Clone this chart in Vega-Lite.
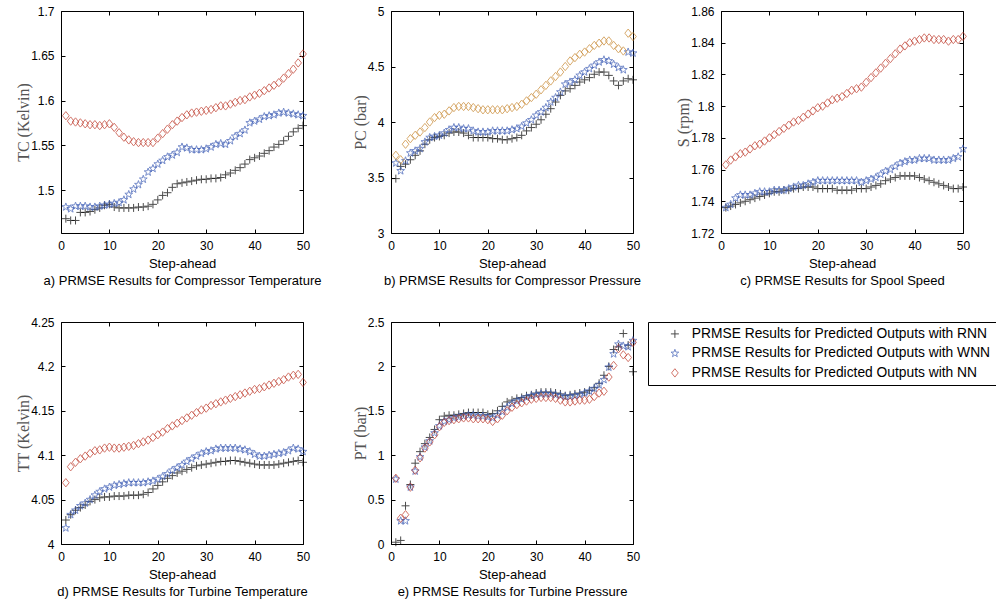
{
"$schema": "https://vega.github.io/schema/vega-lite/v6.json",
"background": "white",
"padding": {"left": 15, "top": 4, "right": 0, "bottom": 0},
"bounds": "flush",
"columns": 3,
"spacing": {"row": 89, "column": 88},
"config": {
  "font": "Liberation Sans",
  "view": {"stroke": "#000", "strokeWidth": 1},
  "axis": {"grid": false, "domain": false, "tickColor": "#000", "tickSize": -4, "tickWidth": 1, "labelFont": "Liberation Sans", "labelFontSize": 12, "labelColor": "#000", "labelPadding": 11, "labelFlush": false, "titleFont": "Liberation Sans", "titleFontSize": 13, "titleFontWeight": "normal", "titleColor": "#000"},
  "axisX": {"titleLineHeight": 17, "titlePadding": 6, "labelFlush": false},
  "axisY": {"titleFont": "Liberation Serif", "titleFontSize": 16, "titleColor": "#555", "titlePadding": -1},
  "legend": {"strokeColor": "#000", "padding": 5, "labelFont": "Liberation Sans", "labelFontSize": 13.8, "labelColor": "#000", "labelLimit": 0, "symbolSize": 64, "symbolStrokeWidth": 1, "rowPadding": 4.5, "labelOffset": 10, "symbolOffset": 15}
},
"resolve": {"scale": {"x": "independent", "y": "independent", "color": "independent", "shape": "independent", "size": "independent"}, "legend": {"color": "independent", "shape": "independent"}},
"datasets": {
"a": [
{"step":1,"model":"RNN","value":1.468},{"step":2,"model":"RNN","value":1.466},{"step":3,"model":"RNN","value":1.466},{"step":4,"model":"RNN","value":1.475},{"step":5,"model":"RNN","value":1.475},{"step":6,"model":"RNN","value":1.476},{"step":7,"model":"RNN","value":1.478},{"step":8,"model":"RNN","value":1.480},{"step":9,"model":"RNN","value":1.483},{"step":10,"model":"RNN","value":1.484},
{"step":11,"model":"RNN","value":1.481},{"step":12,"model":"RNN","value":1.480},{"step":13,"model":"RNN","value":1.480},{"step":14,"model":"RNN","value":1.480},{"step":15,"model":"RNN","value":1.480},{"step":16,"model":"RNN","value":1.481},{"step":17,"model":"RNN","value":1.481},{"step":18,"model":"RNN","value":1.482},{"step":19,"model":"RNN","value":1.484},{"step":20,"model":"RNN","value":1.489},
{"step":21,"model":"RNN","value":1.494},{"step":22,"model":"RNN","value":1.497},{"step":23,"model":"RNN","value":1.503},{"step":24,"model":"RNN","value":1.507},{"step":25,"model":"RNN","value":1.508},{"step":26,"model":"RNN","value":1.509},{"step":27,"model":"RNN","value":1.510},{"step":28,"model":"RNN","value":1.511},{"step":29,"model":"RNN","value":1.512},{"step":30,"model":"RNN","value":1.512},
{"step":31,"model":"RNN","value":1.513},{"step":32,"model":"RNN","value":1.513},{"step":33,"model":"RNN","value":1.514},{"step":34,"model":"RNN","value":1.517},{"step":35,"model":"RNN","value":1.519},{"step":36,"model":"RNN","value":1.522},{"step":37,"model":"RNN","value":1.525},{"step":38,"model":"RNN","value":1.529},{"step":39,"model":"RNN","value":1.534},{"step":40,"model":"RNN","value":1.536},
{"step":41,"model":"RNN","value":1.538},{"step":42,"model":"RNN","value":1.541},{"step":43,"model":"RNN","value":1.544},{"step":44,"model":"RNN","value":1.548},{"step":45,"model":"RNN","value":1.551},{"step":46,"model":"RNN","value":1.555},{"step":47,"model":"RNN","value":1.560},{"step":48,"model":"RNN","value":1.565},{"step":49,"model":"RNN","value":1.569},{"step":50,"model":"RNN","value":1.572},
{"step":1,"model":"WNN","value":1.481},{"step":2,"model":"WNN","value":1.479},{"step":3,"model":"WNN","value":1.482},{"step":4,"model":"WNN","value":1.482},{"step":5,"model":"WNN","value":1.482},{"step":6,"model":"WNN","value":1.481},{"step":7,"model":"WNN","value":1.481},{"step":8,"model":"WNN","value":1.482},{"step":9,"model":"WNN","value":1.483},{"step":10,"model":"WNN","value":1.484},
{"step":11,"model":"WNN","value":1.485},{"step":12,"model":"WNN","value":1.486},{"step":13,"model":"WNN","value":1.489},{"step":14,"model":"WNN","value":1.495},{"step":15,"model":"WNN","value":1.501},{"step":16,"model":"WNN","value":1.506},{"step":17,"model":"WNN","value":1.512},{"step":18,"model":"WNN","value":1.520},{"step":19,"model":"WNN","value":1.524},{"step":20,"model":"WNN","value":1.529},
{"step":21,"model":"WNN","value":1.533},{"step":22,"model":"WNN","value":1.537},{"step":23,"model":"WNN","value":1.539},{"step":24,"model":"WNN","value":1.542},{"step":25,"model":"WNN","value":1.548},{"step":26,"model":"WNN","value":1.547},{"step":27,"model":"WNN","value":1.545},{"step":28,"model":"WNN","value":1.545},{"step":29,"model":"WNN","value":1.545},{"step":30,"model":"WNN","value":1.546},
{"step":31,"model":"WNN","value":1.548},{"step":32,"model":"WNN","value":1.551},{"step":33,"model":"WNN","value":1.552},{"step":34,"model":"WNN","value":1.551},{"step":35,"model":"WNN","value":1.555},{"step":36,"model":"WNN","value":1.560},{"step":37,"model":"WNN","value":1.563},{"step":38,"model":"WNN","value":1.567},{"step":39,"model":"WNN","value":1.575},{"step":40,"model":"WNN","value":1.577},
{"step":41,"model":"WNN","value":1.579},{"step":42,"model":"WNN","value":1.582},{"step":43,"model":"WNN","value":1.583},{"step":44,"model":"WNN","value":1.584},{"step":45,"model":"WNN","value":1.586},{"step":46,"model":"WNN","value":1.587},{"step":47,"model":"WNN","value":1.586},{"step":48,"model":"WNN","value":1.585},{"step":49,"model":"WNN","value":1.584},{"step":50,"model":"WNN","value":1.583},
{"step":1,"model":"NN","value":1.583},{"step":2,"model":"NN","value":1.577},{"step":3,"model":"NN","value":1.576},{"step":4,"model":"NN","value":1.575},{"step":5,"model":"NN","value":1.574},{"step":6,"model":"NN","value":1.573},{"step":7,"model":"NN","value":1.573},{"step":8,"model":"NN","value":1.572},{"step":9,"model":"NN","value":1.573},{"step":10,"model":"NN","value":1.574},
{"step":11,"model":"NN","value":1.570},{"step":12,"model":"NN","value":1.564},{"step":13,"model":"NN","value":1.559},{"step":14,"model":"NN","value":1.556},{"step":15,"model":"NN","value":1.554},{"step":16,"model":"NN","value":1.553},{"step":17,"model":"NN","value":1.553},{"step":18,"model":"NN","value":1.553},{"step":19,"model":"NN","value":1.553},{"step":20,"model":"NN","value":1.558},
{"step":21,"model":"NN","value":1.563},{"step":22,"model":"NN","value":1.568},{"step":23,"model":"NN","value":1.573},{"step":24,"model":"NN","value":1.577},{"step":25,"model":"NN","value":1.581},{"step":26,"model":"NN","value":1.584},{"step":27,"model":"NN","value":1.586},{"step":28,"model":"NN","value":1.587},{"step":29,"model":"NN","value":1.588},{"step":30,"model":"NN","value":1.589},
{"step":31,"model":"NN","value":1.590},{"step":32,"model":"NN","value":1.592},{"step":33,"model":"NN","value":1.594},{"step":34,"model":"NN","value":1.594},{"step":35,"model":"NN","value":1.596},{"step":36,"model":"NN","value":1.598},{"step":37,"model":"NN","value":1.600},{"step":38,"model":"NN","value":1.601},{"step":39,"model":"NN","value":1.604},{"step":40,"model":"NN","value":1.606},
{"step":41,"model":"NN","value":1.608},{"step":42,"model":"NN","value":1.611},{"step":43,"model":"NN","value":1.614},{"step":44,"model":"NN","value":1.617},{"step":45,"model":"NN","value":1.620},{"step":46,"model":"NN","value":1.625},{"step":47,"model":"NN","value":1.630},{"step":48,"model":"NN","value":1.635},{"step":49,"model":"NN","value":1.642},{"step":50,"model":"NN","value":1.652}
],
"b": [
{"step":1,"model":"RNN","value":3.49},{"step":2,"model":"RNN","value":3.60},{"step":3,"model":"RNN","value":3.62},{"step":4,"model":"RNN","value":3.66},{"step":5,"model":"RNN","value":3.70},{"step":6,"model":"RNN","value":3.74},{"step":7,"model":"RNN","value":3.80},{"step":8,"model":"RNN","value":3.84},{"step":9,"model":"RNN","value":3.86},{"step":10,"model":"RNN","value":3.87},
{"step":11,"model":"RNN","value":3.88},{"step":12,"model":"RNN","value":3.90},{"step":13,"model":"RNN","value":3.91},{"step":14,"model":"RNN","value":3.91},{"step":15,"model":"RNN","value":3.90},{"step":16,"model":"RNN","value":3.88},{"step":17,"model":"RNN","value":3.86},{"step":18,"model":"RNN","value":3.86},{"step":19,"model":"RNN","value":3.86},{"step":20,"model":"RNN","value":3.86},
{"step":21,"model":"RNN","value":3.85},{"step":22,"model":"RNN","value":3.85},{"step":23,"model":"RNN","value":3.84},{"step":24,"model":"RNN","value":3.84},{"step":25,"model":"RNN","value":3.85},{"step":26,"model":"RNN","value":3.86},{"step":27,"model":"RNN","value":3.88},{"step":28,"model":"RNN","value":3.92},{"step":29,"model":"RNN","value":3.95},{"step":30,"model":"RNN","value":3.98},
{"step":31,"model":"RNN","value":4.02},{"step":32,"model":"RNN","value":4.07},{"step":33,"model":"RNN","value":4.12},{"step":34,"model":"RNN","value":4.18},{"step":35,"model":"RNN","value":4.24},{"step":36,"model":"RNN","value":4.28},{"step":37,"model":"RNN","value":4.30},{"step":38,"model":"RNN","value":4.33},{"step":39,"model":"RNN","value":4.36},{"step":40,"model":"RNN","value":4.38},
{"step":41,"model":"RNN","value":4.40},{"step":42,"model":"RNN","value":4.43},{"step":43,"model":"RNN","value":4.45},{"step":44,"model":"RNN","value":4.45},{"step":45,"model":"RNN","value":4.42},{"step":46,"model":"RNN","value":4.37},{"step":47,"model":"RNN","value":4.33},{"step":48,"model":"RNN","value":4.37},{"step":49,"model":"RNN","value":4.39},{"step":50,"model":"RNN","value":4.38},
{"step":1,"model":"WNN","value":3.63},{"step":2,"model":"WNN","value":3.56},{"step":3,"model":"WNN","value":3.65},{"step":4,"model":"WNN","value":3.72},{"step":5,"model":"WNN","value":3.74},{"step":6,"model":"WNN","value":3.76},{"step":7,"model":"WNN","value":3.82},{"step":8,"model":"WNN","value":3.86},{"step":9,"model":"WNN","value":3.87},{"step":10,"model":"WNN","value":3.88},
{"step":11,"model":"WNN","value":3.90},{"step":12,"model":"WNN","value":3.93},{"step":13,"model":"WNN","value":3.95},{"step":14,"model":"WNN","value":3.95},{"step":15,"model":"WNN","value":3.94},{"step":16,"model":"WNN","value":3.94},{"step":17,"model":"WNN","value":3.92},{"step":18,"model":"WNN","value":3.91},{"step":19,"model":"WNN","value":3.91},{"step":20,"model":"WNN","value":3.91},
{"step":21,"model":"WNN","value":3.92},{"step":22,"model":"WNN","value":3.92},{"step":23,"model":"WNN","value":3.92},{"step":24,"model":"WNN","value":3.92},{"step":25,"model":"WNN","value":3.93},{"step":26,"model":"WNN","value":3.94},{"step":27,"model":"WNN","value":3.96},{"step":28,"model":"WNN","value":3.99},{"step":29,"model":"WNN","value":4.02},{"step":30,"model":"WNN","value":4.06},
{"step":31,"model":"WNN","value":4.09},{"step":32,"model":"WNN","value":4.13},{"step":33,"model":"WNN","value":4.18},{"step":34,"model":"WNN","value":4.22},{"step":35,"model":"WNN","value":4.27},{"step":36,"model":"WNN","value":4.34},{"step":37,"model":"WNN","value":4.36},{"step":38,"model":"WNN","value":4.38},{"step":39,"model":"WNN","value":4.42},{"step":40,"model":"WNN","value":4.45},
{"step":41,"model":"WNN","value":4.48},{"step":42,"model":"WNN","value":4.51},{"step":43,"model":"WNN","value":4.54},{"step":44,"model":"WNN","value":4.56},{"step":45,"model":"WNN","value":4.55},{"step":46,"model":"WNN","value":4.52},{"step":47,"model":"WNN","value":4.49},{"step":48,"model":"WNN","value":4.47},{"step":49,"model":"WNN","value":4.63},{"step":50,"model":"WNN","value":4.62},
{"step":1,"model":"NN","value":3.70},{"step":2,"model":"NN","value":3.66},{"step":3,"model":"NN","value":3.80},{"step":4,"model":"NN","value":3.85},{"step":5,"model":"NN","value":3.88},{"step":6,"model":"NN","value":3.91},{"step":7,"model":"NN","value":3.95},{"step":8,"model":"NN","value":4.00},{"step":9,"model":"NN","value":4.04},{"step":10,"model":"NN","value":4.06},
{"step":11,"model":"NN","value":4.07},{"step":12,"model":"NN","value":4.10},{"step":13,"model":"NN","value":4.13},{"step":14,"model":"NN","value":4.14},{"step":15,"model":"NN","value":4.14},{"step":16,"model":"NN","value":4.14},{"step":17,"model":"NN","value":4.13},{"step":18,"model":"NN","value":4.12},{"step":19,"model":"NN","value":4.11},{"step":20,"model":"NN","value":4.11},
{"step":21,"model":"NN","value":4.11},{"step":22,"model":"NN","value":4.11},{"step":23,"model":"NN","value":4.11},{"step":24,"model":"NN","value":4.12},{"step":25,"model":"NN","value":4.13},{"step":26,"model":"NN","value":4.14},{"step":27,"model":"NN","value":4.16},{"step":28,"model":"NN","value":4.19},{"step":29,"model":"NN","value":4.22},{"step":30,"model":"NN","value":4.25},
{"step":31,"model":"NN","value":4.29},{"step":32,"model":"NN","value":4.33},{"step":33,"model":"NN","value":4.37},{"step":34,"model":"NN","value":4.41},{"step":35,"model":"NN","value":4.45},{"step":36,"model":"NN","value":4.50},{"step":37,"model":"NN","value":4.55},{"step":38,"model":"NN","value":4.58},{"step":39,"model":"NN","value":4.61},{"step":40,"model":"NN","value":4.63},
{"step":41,"model":"NN","value":4.66},{"step":42,"model":"NN","value":4.69},{"step":43,"model":"NN","value":4.71},{"step":44,"model":"NN","value":4.73},{"step":45,"model":"NN","value":4.73},{"step":46,"model":"NN","value":4.69},{"step":47,"model":"NN","value":4.66},{"step":48,"model":"NN","value":4.64},{"step":49,"model":"NN","value":4.80},{"step":50,"model":"NN","value":4.77}
],
"c": [
{"step":1,"model":"RNN","value":1.736},{"step":2,"model":"RNN","value":1.737},{"step":3,"model":"RNN","value":1.738},{"step":4,"model":"RNN","value":1.739},{"step":5,"model":"RNN","value":1.740},{"step":6,"model":"RNN","value":1.741},{"step":7,"model":"RNN","value":1.742},{"step":8,"model":"RNN","value":1.743},{"step":9,"model":"RNN","value":1.744},{"step":10,"model":"RNN","value":1.745},
{"step":11,"model":"RNN","value":1.746},{"step":12,"model":"RNN","value":1.746},{"step":13,"model":"RNN","value":1.747},{"step":14,"model":"RNN","value":1.747},{"step":15,"model":"RNN","value":1.748},{"step":16,"model":"RNN","value":1.748},{"step":17,"model":"RNN","value":1.749},{"step":18,"model":"RNN","value":1.749},{"step":19,"model":"RNN","value":1.749},{"step":20,"model":"RNN","value":1.748},
{"step":21,"model":"RNN","value":1.748},{"step":22,"model":"RNN","value":1.748},{"step":23,"model":"RNN","value":1.748},{"step":24,"model":"RNN","value":1.747},{"step":25,"model":"RNN","value":1.747},{"step":26,"model":"RNN","value":1.747},{"step":27,"model":"RNN","value":1.747},{"step":28,"model":"RNN","value":1.748},{"step":29,"model":"RNN","value":1.748},{"step":30,"model":"RNN","value":1.748},
{"step":31,"model":"RNN","value":1.749},{"step":32,"model":"RNN","value":1.750},{"step":33,"model":"RNN","value":1.751},{"step":34,"model":"RNN","value":1.753},{"step":35,"model":"RNN","value":1.754},{"step":36,"model":"RNN","value":1.755},{"step":37,"model":"RNN","value":1.756},{"step":38,"model":"RNN","value":1.756},{"step":39,"model":"RNN","value":1.756},{"step":40,"model":"RNN","value":1.756},
{"step":41,"model":"RNN","value":1.755},{"step":42,"model":"RNN","value":1.754},{"step":43,"model":"RNN","value":1.753},{"step":44,"model":"RNN","value":1.752},{"step":45,"model":"RNN","value":1.751},{"step":46,"model":"RNN","value":1.750},{"step":47,"model":"RNN","value":1.749},{"step":48,"model":"RNN","value":1.748},{"step":49,"model":"RNN","value":1.748},{"step":50,"model":"RNN","value":1.749},
{"step":1,"model":"WNN","value":1.736},{"step":2,"model":"WNN","value":1.738},{"step":3,"model":"WNN","value":1.742},{"step":4,"model":"WNN","value":1.744},{"step":5,"model":"WNN","value":1.744},{"step":6,"model":"WNN","value":1.744},{"step":7,"model":"WNN","value":1.745},{"step":8,"model":"WNN","value":1.746},{"step":9,"model":"WNN","value":1.746},{"step":10,"model":"WNN","value":1.746},
{"step":11,"model":"WNN","value":1.747},{"step":12,"model":"WNN","value":1.747},{"step":13,"model":"WNN","value":1.747},{"step":14,"model":"WNN","value":1.748},{"step":15,"model":"WNN","value":1.749},{"step":16,"model":"WNN","value":1.750},{"step":17,"model":"WNN","value":1.750},{"step":18,"model":"WNN","value":1.751},{"step":19,"model":"WNN","value":1.752},{"step":20,"model":"WNN","value":1.753},
{"step":21,"model":"WNN","value":1.753},{"step":22,"model":"WNN","value":1.753},{"step":23,"model":"WNN","value":1.753},{"step":24,"model":"WNN","value":1.753},{"step":25,"model":"WNN","value":1.753},{"step":26,"model":"WNN","value":1.753},{"step":27,"model":"WNN","value":1.753},{"step":28,"model":"WNN","value":1.753},{"step":29,"model":"WNN","value":1.752},{"step":30,"model":"WNN","value":1.753},
{"step":31,"model":"WNN","value":1.754},{"step":32,"model":"WNN","value":1.755},{"step":33,"model":"WNN","value":1.757},{"step":34,"model":"WNN","value":1.759},{"step":35,"model":"WNN","value":1.760},{"step":36,"model":"WNN","value":1.762},{"step":37,"model":"WNN","value":1.764},{"step":38,"model":"WNN","value":1.765},{"step":39,"model":"WNN","value":1.766},{"step":40,"model":"WNN","value":1.766},
{"step":41,"model":"WNN","value":1.767},{"step":42,"model":"WNN","value":1.767},{"step":43,"model":"WNN","value":1.767},{"step":44,"model":"WNN","value":1.766},{"step":45,"model":"WNN","value":1.766},{"step":46,"model":"WNN","value":1.766},{"step":47,"model":"WNN","value":1.766},{"step":48,"model":"WNN","value":1.767},{"step":49,"model":"WNN","value":1.768},{"step":50,"model":"WNN","value":1.773},
{"step":1,"model":"NN","value":1.763},{"step":2,"model":"NN","value":1.766},{"step":3,"model":"NN","value":1.768},{"step":4,"model":"NN","value":1.770},{"step":5,"model":"NN","value":1.771},{"step":6,"model":"NN","value":1.773},{"step":7,"model":"NN","value":1.775},{"step":8,"model":"NN","value":1.776},{"step":9,"model":"NN","value":1.778},{"step":10,"model":"NN","value":1.780},
{"step":11,"model":"NN","value":1.782},{"step":12,"model":"NN","value":1.784},{"step":13,"model":"NN","value":1.786},{"step":14,"model":"NN","value":1.788},{"step":15,"model":"NN","value":1.790},{"step":16,"model":"NN","value":1.791},{"step":17,"model":"NN","value":1.793},{"step":18,"model":"NN","value":1.795},{"step":19,"model":"NN","value":1.797},{"step":20,"model":"NN","value":1.799},
{"step":21,"model":"NN","value":1.800},{"step":22,"model":"NN","value":1.802},{"step":23,"model":"NN","value":1.804},{"step":24,"model":"NN","value":1.805},{"step":25,"model":"NN","value":1.806},{"step":26,"model":"NN","value":1.808},{"step":27,"model":"NN","value":1.810},{"step":28,"model":"NN","value":1.811},{"step":29,"model":"NN","value":1.812},{"step":30,"model":"NN","value":1.815},
{"step":31,"model":"NN","value":1.818},{"step":32,"model":"NN","value":1.821},{"step":33,"model":"NN","value":1.824},{"step":34,"model":"NN","value":1.827},{"step":35,"model":"NN","value":1.830},{"step":36,"model":"NN","value":1.833},{"step":37,"model":"NN","value":1.836},{"step":38,"model":"NN","value":1.838},{"step":39,"model":"NN","value":1.840},{"step":40,"model":"NN","value":1.841},
{"step":41,"model":"NN","value":1.842},{"step":42,"model":"NN","value":1.843},{"step":43,"model":"NN","value":1.843},{"step":44,"model":"NN","value":1.842},{"step":45,"model":"NN","value":1.842},{"step":46,"model":"NN","value":1.842},{"step":47,"model":"NN","value":1.841},{"step":48,"model":"NN","value":1.842},{"step":49,"model":"NN","value":1.842},{"step":50,"model":"NN","value":1.844}
],
"d": [
{"step":1,"model":"RNN","value":4.027},{"step":2,"model":"RNN","value":4.033},{"step":3,"model":"RNN","value":4.038},{"step":4,"model":"RNN","value":4.041},{"step":5,"model":"RNN","value":4.044},{"step":6,"model":"RNN","value":4.048},{"step":7,"model":"RNN","value":4.050},{"step":8,"model":"RNN","value":4.052},{"step":9,"model":"RNN","value":4.053},{"step":10,"model":"RNN","value":4.053},
{"step":11,"model":"RNN","value":4.054},{"step":12,"model":"RNN","value":4.054},{"step":13,"model":"RNN","value":4.054},{"step":14,"model":"RNN","value":4.055},{"step":15,"model":"RNN","value":4.055},{"step":16,"model":"RNN","value":4.055},{"step":17,"model":"RNN","value":4.056},{"step":18,"model":"RNN","value":4.058},{"step":19,"model":"RNN","value":4.062},{"step":20,"model":"RNN","value":4.066},
{"step":21,"model":"RNN","value":4.070},{"step":22,"model":"RNN","value":4.074},{"step":23,"model":"RNN","value":4.077},{"step":24,"model":"RNN","value":4.080},{"step":25,"model":"RNN","value":4.082},{"step":26,"model":"RNN","value":4.084},{"step":27,"model":"RNN","value":4.086},{"step":28,"model":"RNN","value":4.088},{"step":29,"model":"RNN","value":4.089},{"step":30,"model":"RNN","value":4.090},
{"step":31,"model":"RNN","value":4.091},{"step":32,"model":"RNN","value":4.092},{"step":33,"model":"RNN","value":4.093},{"step":34,"model":"RNN","value":4.093},{"step":35,"model":"RNN","value":4.094},{"step":36,"model":"RNN","value":4.094},{"step":37,"model":"RNN","value":4.093},{"step":38,"model":"RNN","value":4.092},{"step":39,"model":"RNN","value":4.091},{"step":40,"model":"RNN","value":4.090},
{"step":41,"model":"RNN","value":4.089},{"step":42,"model":"RNN","value":4.089},{"step":43,"model":"RNN","value":4.089},{"step":44,"model":"RNN","value":4.089},{"step":45,"model":"RNN","value":4.090},{"step":46,"model":"RNN","value":4.091},{"step":47,"model":"RNN","value":4.092},{"step":48,"model":"RNN","value":4.093},{"step":49,"model":"RNN","value":4.094},{"step":50,"model":"RNN","value":4.092},
{"step":1,"model":"WNN","value":4.018},{"step":2,"model":"WNN","value":4.033},{"step":3,"model":"WNN","value":4.038},{"step":4,"model":"WNN","value":4.043},{"step":5,"model":"WNN","value":4.046},{"step":6,"model":"WNN","value":4.050},{"step":7,"model":"WNN","value":4.055},{"step":8,"model":"WNN","value":4.059},{"step":9,"model":"WNN","value":4.062},{"step":10,"model":"WNN","value":4.064},
{"step":11,"model":"WNN","value":4.066},{"step":12,"model":"WNN","value":4.067},{"step":13,"model":"WNN","value":4.068},{"step":14,"model":"WNN","value":4.069},{"step":15,"model":"WNN","value":4.069},{"step":16,"model":"WNN","value":4.069},{"step":17,"model":"WNN","value":4.069},{"step":18,"model":"WNN","value":4.070},{"step":19,"model":"WNN","value":4.071},{"step":20,"model":"WNN","value":4.073},
{"step":21,"model":"WNN","value":4.076},{"step":22,"model":"WNN","value":4.079},{"step":23,"model":"WNN","value":4.083},{"step":24,"model":"WNN","value":4.086},{"step":25,"model":"WNN","value":4.089},{"step":26,"model":"WNN","value":4.093},{"step":27,"model":"WNN","value":4.096},{"step":28,"model":"WNN","value":4.099},{"step":29,"model":"WNN","value":4.102},{"step":30,"model":"WNN","value":4.104},
{"step":31,"model":"WNN","value":4.105},{"step":32,"model":"WNN","value":4.107},{"step":33,"model":"WNN","value":4.108},{"step":34,"model":"WNN","value":4.108},{"step":35,"model":"WNN","value":4.108},{"step":36,"model":"WNN","value":4.108},{"step":37,"model":"WNN","value":4.107},{"step":38,"model":"WNN","value":4.106},{"step":39,"model":"WNN","value":4.104},{"step":40,"model":"WNN","value":4.101},
{"step":41,"model":"WNN","value":4.099},{"step":42,"model":"WNN","value":4.099},{"step":43,"model":"WNN","value":4.100},{"step":44,"model":"WNN","value":4.101},{"step":45,"model":"WNN","value":4.102},{"step":46,"model":"WNN","value":4.103},{"step":47,"model":"WNN","value":4.105},{"step":48,"model":"WNN","value":4.108},{"step":49,"model":"WNN","value":4.107},{"step":50,"model":"WNN","value":4.104},
{"step":1,"model":"NN","value":4.069},{"step":2,"model":"NN","value":4.087},{"step":3,"model":"NN","value":4.092},{"step":4,"model":"NN","value":4.096},{"step":5,"model":"NN","value":4.099},{"step":6,"model":"NN","value":4.102},{"step":7,"model":"NN","value":4.105},{"step":8,"model":"NN","value":4.106},{"step":9,"model":"NN","value":4.108},{"step":10,"model":"NN","value":4.109},
{"step":11,"model":"NN","value":4.108},{"step":12,"model":"NN","value":4.108},{"step":13,"model":"NN","value":4.109},{"step":14,"model":"NN","value":4.110},{"step":15,"model":"NN","value":4.111},{"step":16,"model":"NN","value":4.113},{"step":17,"model":"NN","value":4.115},{"step":18,"model":"NN","value":4.117},{"step":19,"model":"NN","value":4.120},{"step":20,"model":"NN","value":4.123},
{"step":21,"model":"NN","value":4.126},{"step":22,"model":"NN","value":4.130},{"step":23,"model":"NN","value":4.133},{"step":24,"model":"NN","value":4.136},{"step":25,"model":"NN","value":4.139},{"step":26,"model":"NN","value":4.142},{"step":27,"model":"NN","value":4.145},{"step":28,"model":"NN","value":4.148},{"step":29,"model":"NN","value":4.151},{"step":30,"model":"NN","value":4.153},
{"step":31,"model":"NN","value":4.156},{"step":32,"model":"NN","value":4.158},{"step":33,"model":"NN","value":4.160},{"step":34,"model":"NN","value":4.162},{"step":35,"model":"NN","value":4.164},{"step":36,"model":"NN","value":4.166},{"step":37,"model":"NN","value":4.168},{"step":38,"model":"NN","value":4.170},{"step":39,"model":"NN","value":4.172},{"step":40,"model":"NN","value":4.174},
{"step":41,"model":"NN","value":4.175},{"step":42,"model":"NN","value":4.177},{"step":43,"model":"NN","value":4.179},{"step":44,"model":"NN","value":4.181},{"step":45,"model":"NN","value":4.183},{"step":46,"model":"NN","value":4.185},{"step":47,"model":"NN","value":4.188},{"step":48,"model":"NN","value":4.190},{"step":49,"model":"NN","value":4.191},{"step":50,"model":"NN","value":4.182}
],
"e": [
{"step":1,"model":"RNN","value":0.02},{"step":2,"model":"RNN","value":0.04},{"step":3,"model":"RNN","value":0.43},{"step":4,"model":"RNN","value":0.67},{"step":5,"model":"RNN","value":0.91},{"step":6,"model":"RNN","value":1.04},{"step":7,"model":"RNN","value":1.13},{"step":8,"model":"RNN","value":1.20},{"step":9,"model":"RNN","value":1.29},{"step":10,"model":"RNN","value":1.40},
{"step":11,"model":"RNN","value":1.44},{"step":12,"model":"RNN","value":1.45},{"step":13,"model":"RNN","value":1.45},{"step":14,"model":"RNN","value":1.46},{"step":15,"model":"RNN","value":1.47},{"step":16,"model":"RNN","value":1.48},{"step":17,"model":"RNN","value":1.48},{"step":18,"model":"RNN","value":1.48},{"step":19,"model":"RNN","value":1.48},{"step":20,"model":"RNN","value":1.46},
{"step":21,"model":"RNN","value":1.47},{"step":22,"model":"RNN","value":1.50},{"step":23,"model":"RNN","value":1.55},{"step":24,"model":"RNN","value":1.60},{"step":25,"model":"RNN","value":1.62},{"step":26,"model":"RNN","value":1.64},{"step":27,"model":"RNN","value":1.65},{"step":28,"model":"RNN","value":1.67},{"step":29,"model":"RNN","value":1.68},{"step":30,"model":"RNN","value":1.70},
{"step":31,"model":"RNN","value":1.71},{"step":32,"model":"RNN","value":1.71},{"step":33,"model":"RNN","value":1.71},{"step":34,"model":"RNN","value":1.70},{"step":35,"model":"RNN","value":1.69},{"step":36,"model":"RNN","value":1.67},{"step":37,"model":"RNN","value":1.68},{"step":38,"model":"RNN","value":1.69},{"step":39,"model":"RNN","value":1.70},{"step":40,"model":"RNN","value":1.71},
{"step":41,"model":"RNN","value":1.73},{"step":42,"model":"RNN","value":1.76},{"step":43,"model":"RNN","value":1.81},{"step":44,"model":"RNN","value":1.90},{"step":45,"model":"RNN","value":2.00},{"step":46,"model":"RNN","value":2.19},{"step":47,"model":"RNN","value":2.22},{"step":48,"model":"RNN","value":2.37},{"step":49,"model":"RNN","value":2.24},{"step":50,"model":"RNN","value":1.94},
{"step":1,"model":"WNN","value":0.73},{"step":2,"model":"WNN","value":0.26},{"step":3,"model":"WNN","value":0.26},{"step":4,"model":"WNN","value":0.64},{"step":5,"model":"WNN","value":0.82},{"step":6,"model":"WNN","value":0.98},{"step":7,"model":"WNN","value":1.09},{"step":8,"model":"WNN","value":1.16},{"step":9,"model":"WNN","value":1.25},{"step":10,"model":"WNN","value":1.33},
{"step":11,"model":"WNN","value":1.38},{"step":12,"model":"WNN","value":1.40},{"step":13,"model":"WNN","value":1.42},{"step":14,"model":"WNN","value":1.43},{"step":15,"model":"WNN","value":1.44},{"step":16,"model":"WNN","value":1.45},{"step":17,"model":"WNN","value":1.45},{"step":18,"model":"WNN","value":1.44},{"step":19,"model":"WNN","value":1.44},{"step":20,"model":"WNN","value":1.43},
{"step":21,"model":"WNN","value":1.42},{"step":22,"model":"WNN","value":1.45},{"step":23,"model":"WNN","value":1.49},{"step":24,"model":"WNN","value":1.54},{"step":25,"model":"WNN","value":1.58},{"step":26,"model":"WNN","value":1.61},{"step":27,"model":"WNN","value":1.63},{"step":28,"model":"WNN","value":1.65},{"step":29,"model":"WNN","value":1.67},{"step":30,"model":"WNN","value":1.68},
{"step":31,"model":"WNN","value":1.69},{"step":32,"model":"WNN","value":1.69},{"step":33,"model":"WNN","value":1.69},{"step":34,"model":"WNN","value":1.68},{"step":35,"model":"WNN","value":1.67},{"step":36,"model":"WNN","value":1.66},{"step":37,"model":"WNN","value":1.66},{"step":38,"model":"WNN","value":1.67},{"step":39,"model":"WNN","value":1.68},{"step":40,"model":"WNN","value":1.70},
{"step":41,"model":"WNN","value":1.72},{"step":42,"model":"WNN","value":1.75},{"step":43,"model":"WNN","value":1.79},{"step":44,"model":"WNN","value":1.85},{"step":45,"model":"WNN","value":1.99},{"step":46,"model":"WNN","value":2.14},{"step":47,"model":"WNN","value":2.25},{"step":48,"model":"WNN","value":2.23},{"step":49,"model":"WNN","value":2.22},{"step":50,"model":"WNN","value":2.29},
{"step":1,"model":"NN","value":0.74},{"step":2,"model":"NN","value":0.29},{"step":3,"model":"NN","value":0.33},{"step":4,"model":"NN","value":0.64},{"step":5,"model":"NN","value":0.83},{"step":6,"model":"NN","value":0.97},{"step":7,"model":"NN","value":1.08},{"step":8,"model":"NN","value":1.15},{"step":9,"model":"NN","value":1.23},{"step":10,"model":"NN","value":1.32},
{"step":11,"model":"NN","value":1.37},{"step":12,"model":"NN","value":1.39},{"step":13,"model":"NN","value":1.40},{"step":14,"model":"NN","value":1.41},{"step":15,"model":"NN","value":1.42},{"step":16,"model":"NN","value":1.42},{"step":17,"model":"NN","value":1.41},{"step":18,"model":"NN","value":1.41},{"step":19,"model":"NN","value":1.41},{"step":20,"model":"NN","value":1.40},
{"step":21,"model":"NN","value":1.38},{"step":22,"model":"NN","value":1.41},{"step":23,"model":"NN","value":1.45},{"step":24,"model":"NN","value":1.50},{"step":25,"model":"NN","value":1.54},{"step":26,"model":"NN","value":1.57},{"step":27,"model":"NN","value":1.59},{"step":28,"model":"NN","value":1.61},{"step":29,"model":"NN","value":1.63},{"step":30,"model":"NN","value":1.64},
{"step":31,"model":"NN","value":1.65},{"step":32,"model":"NN","value":1.65},{"step":33,"model":"NN","value":1.65},{"step":34,"model":"NN","value":1.64},{"step":35,"model":"NN","value":1.62},{"step":36,"model":"NN","value":1.60},{"step":37,"model":"NN","value":1.60},{"step":38,"model":"NN","value":1.61},{"step":39,"model":"NN","value":1.62},{"step":40,"model":"NN","value":1.62},
{"step":41,"model":"NN","value":1.63},{"step":42,"model":"NN","value":1.66},{"step":43,"model":"NN","value":1.70},{"step":44,"model":"NN","value":1.72},{"step":45,"model":"NN","value":1.88},{"step":46,"model":"NN","value":2.01},{"step":47,"model":"NN","value":2.20},{"step":48,"model":"NN","value":2.13},{"step":49,"model":"NN","value":2.10},{"step":50,"model":"NN","value":2.27}
]
},
"concat": [
{
 "width": 242, "height": 222,
 "data": {"name": "a"},
 "layer": [
  {"mark": {"type": "point", "filled": false, "strokeWidth": 1},
   "encoding": {
    "x": {"field": "step", "type": "quantitative", "scale": {"domain": [0, 50], "nice": false, "zero": false}, "axis": {"values": [0,10,20,30,40,50], "title": ["Step-ahead", "a) PRMSE Results for Compressor Temperature"]}},
    "y": {"field": "value", "type": "quantitative", "scale": {"domain": [1.452, 1.7], "nice": false, "zero": false}, "axis": {"values": [1.5,1.55,1.6,1.65,1.7], "format": "~g", "title": "TC (Kelvin)"}},
    "shape": {"field": "model", "type": "nominal", "scale": {"domain": ["RNN","WNN","NN"], "range": ["M-1,0L1,0M0,-1L0,1", "M0,-1L0.235,-0.324L0.951,-0.309L0.38,0.124L0.588,0.809L0,0.4L-0.588,0.809L-0.38,0.124L-0.951,-0.309L-0.235,-0.324Z", "M0,-1L0.8,0L0,1L-0.8,0Z"]}, "legend": null},
    "color": {"field": "model", "type": "nominal", "scale": {"domain": ["RNN","WNN","NN"], "range": ["#000000", "#3b5bb5", "#bf3a2b"]}, "legend": null},
    "size": {"field": "model", "type": "nominal", "scale": {"domain": ["RNN","WNN","NN"], "range": [64, 70, 90]}, "legend": null}
   }},
  {"mark": {"type": "point", "opacity": 0},
   "encoding": {
    "x": {"field": "step", "type": "quantitative", "scale": {"domain": [0, 50], "nice": false, "zero": false}, "axis": {"orient": "top", "values": [0,10,20,30,40,50], "labels": false, "title": null}},
    "y": {"field": "value", "type": "quantitative", "scale": {"domain": [1.452, 1.7], "nice": false, "zero": false}, "axis": {"orient": "right", "values": [1.5,1.55,1.6,1.65,1.7], "labels": false, "title": null}}
   }}
 ],
 "resolve": {"axis": {"x": "independent", "y": "independent"}}
},
{
 "width": 242, "height": 222,
 "data": {"name": "b"},
 "layer": [
  {"mark": {"type": "point", "filled": false, "strokeWidth": 1},
   "encoding": {
    "x": {"field": "step", "type": "quantitative", "scale": {"domain": [0, 50], "nice": false, "zero": false}, "axis": {"values": [0,10,20,30,40,50], "title": ["Step-ahead", "b) PRMSE Results for Compressor Pressure"]}},
    "y": {"field": "value", "type": "quantitative", "scale": {"domain": [3, 5], "nice": false, "zero": false}, "axis": {"values": [3,3.5,4,4.5,5], "format": "~g", "title": "PC (bar)"}},
    "shape": {"field": "model", "type": "nominal", "scale": {"domain": ["RNN","WNN","NN"], "range": ["M-1,0L1,0M0,-1L0,1", "M0,-1L0.235,-0.324L0.951,-0.309L0.38,0.124L0.588,0.809L0,0.4L-0.588,0.809L-0.38,0.124L-0.951,-0.309L-0.235,-0.324Z", "M0,-1L0.8,0L0,1L-0.8,0Z"]}, "legend": null},
    "color": {"field": "model", "type": "nominal", "scale": {"domain": ["RNN","WNN","NN"], "range": ["#000000", "#3b5bb5", "#c8872f"]}, "legend": null},
    "size": {"field": "model", "type": "nominal", "scale": {"domain": ["RNN","WNN","NN"], "range": [64, 70, 90]}, "legend": null}
   }},
  {"mark": {"type": "point", "opacity": 0},
   "encoding": {
    "x": {"field": "step", "type": "quantitative", "scale": {"domain": [0, 50], "nice": false, "zero": false}, "axis": {"orient": "top", "values": [0,10,20,30,40,50], "labels": false, "title": null}},
    "y": {"field": "value", "type": "quantitative", "scale": {"domain": [3, 5], "nice": false, "zero": false}, "axis": {"orient": "right", "values": [3,3.5,4,4.5,5], "labels": false, "title": null}}
   }}
 ],
 "resolve": {"axis": {"x": "independent", "y": "independent"}}
},
{
 "width": 242, "height": 222,
 "data": {"name": "c"},
 "layer": [
  {"mark": {"type": "point", "filled": false, "strokeWidth": 1},
   "encoding": {
    "x": {"field": "step", "type": "quantitative", "scale": {"domain": [0, 50], "nice": false, "zero": false}, "axis": {"values": [0,10,20,30,40,50], "title": ["Step-ahead", "c) PRMSE Results for Spool Speed"]}},
    "y": {"field": "value", "type": "quantitative", "scale": {"domain": [1.72, 1.86], "nice": false, "zero": false}, "axis": {"values": [1.72,1.74,1.76,1.78,1.8,1.82,1.84,1.86], "format": "~g", "title": "S (rpm)"}},
    "shape": {"field": "model", "type": "nominal", "scale": {"domain": ["RNN","WNN","NN"], "range": ["M-1,0L1,0M0,-1L0,1", "M0,-1L0.235,-0.324L0.951,-0.309L0.38,0.124L0.588,0.809L0,0.4L-0.588,0.809L-0.38,0.124L-0.951,-0.309L-0.235,-0.324Z", "M0,-1L0.8,0L0,1L-0.8,0Z"]}, "legend": null},
    "color": {"field": "model", "type": "nominal", "scale": {"domain": ["RNN","WNN","NN"], "range": ["#000000", "#3b5bb5", "#bf3a2b"]}, "legend": null},
    "size": {"field": "model", "type": "nominal", "scale": {"domain": ["RNN","WNN","NN"], "range": [64, 70, 90]}, "legend": null}
   }},
  {"mark": {"type": "point", "opacity": 0},
   "encoding": {
    "x": {"field": "step", "type": "quantitative", "scale": {"domain": [0, 50], "nice": false, "zero": false}, "axis": {"orient": "top", "values": [0,10,20,30,40,50], "labels": false, "title": null}},
    "y": {"field": "value", "type": "quantitative", "scale": {"domain": [1.72, 1.86], "nice": false, "zero": false}, "axis": {"orient": "right", "values": [1.72,1.74,1.76,1.78,1.8,1.82,1.84,1.86], "labels": false, "title": null}}
   }}
 ],
 "resolve": {"axis": {"x": "independent", "y": "independent"}}
},
{
 "width": 242, "height": 222,
 "data": {"name": "d"},
 "layer": [
  {"mark": {"type": "point", "filled": false, "strokeWidth": 1},
   "encoding": {
    "x": {"field": "step", "type": "quantitative", "scale": {"domain": [0, 50], "nice": false, "zero": false}, "axis": {"values": [0,10,20,30,40,50], "title": ["Step-ahead", "d) PRMSE Results for Turbine Temperature"]}},
    "y": {"field": "value", "type": "quantitative", "scale": {"domain": [4, 4.25], "nice": false, "zero": false}, "axis": {"values": [4,4.05,4.1,4.15,4.2,4.25], "format": "~g", "title": "TT (Kelvin)"}},
    "shape": {"field": "model", "type": "nominal", "scale": {"domain": ["RNN","WNN","NN"], "range": ["M-1,0L1,0M0,-1L0,1", "M0,-1L0.235,-0.324L0.951,-0.309L0.38,0.124L0.588,0.809L0,0.4L-0.588,0.809L-0.38,0.124L-0.951,-0.309L-0.235,-0.324Z", "M0,-1L0.8,0L0,1L-0.8,0Z"]}, "legend": null},
    "color": {"field": "model", "type": "nominal", "scale": {"domain": ["RNN","WNN","NN"], "range": ["#000000", "#3b5bb5", "#bf3a2b"]}, "legend": null},
    "size": {"field": "model", "type": "nominal", "scale": {"domain": ["RNN","WNN","NN"], "range": [64, 70, 90]}, "legend": null}
   }},
  {"mark": {"type": "point", "opacity": 0},
   "encoding": {
    "x": {"field": "step", "type": "quantitative", "scale": {"domain": [0, 50], "nice": false, "zero": false}, "axis": {"orient": "top", "values": [0,10,20,30,40,50], "labels": false, "title": null}},
    "y": {"field": "value", "type": "quantitative", "scale": {"domain": [4, 4.25], "nice": false, "zero": false}, "axis": {"orient": "right", "values": [4,4.05,4.1,4.15,4.2,4.25], "labels": false, "title": null}}
   }}
 ],
 "resolve": {"axis": {"x": "independent", "y": "independent"}}
},
{
 "width": 242, "height": 222,
 "data": {"name": "e"},
 "layer": [
  {"mark": {"type": "point", "filled": false, "strokeWidth": 1},
   "encoding": {
    "x": {"field": "step", "type": "quantitative", "scale": {"domain": [0, 50], "nice": false, "zero": false}, "axis": {"values": [0,10,20,30,40,50], "title": ["Step-ahead", "e) PRMSE Results for Turbine Pressure"]}},
    "y": {"field": "value", "type": "quantitative", "scale": {"domain": [0, 2.5], "nice": false, "zero": false}, "axis": {"values": [0,0.5,1,1.5,2,2.5], "format": "~g", "title": "PT (bar)"}},
    "shape": {"field": "model", "type": "nominal", "scale": {"domain": ["RNN","WNN","NN"], "range": ["M-1,0L1,0M0,-1L0,1", "M0,-1L0.235,-0.324L0.951,-0.309L0.38,0.124L0.588,0.809L0,0.4L-0.588,0.809L-0.38,0.124L-0.951,-0.309L-0.235,-0.324Z", "M0,-1L0.8,0L0,1L-0.8,0Z"]}, "legend": {"title": null, "orient": "right", "offset": 14, "labelFontSize": 13.8, "labelExpr": "'PRMSE Results for Predicted Outputs with ' + datum.label"}},
    "color": {"field": "model", "type": "nominal", "scale": {"domain": ["RNN","WNN","NN"], "range": ["#000000", "#3b5bb5", "#bf3a2b"]}, "legend": {"title": null, "orient": "right", "offset": 14, "labelFontSize": 13.8, "labelExpr": "'PRMSE Results for Predicted Outputs with ' + datum.label"}},
    "size": {"field": "model", "type": "nominal", "scale": {"domain": ["RNN","WNN","NN"], "range": [64, 70, 90]}, "legend": null}
   }},
  {"mark": {"type": "point", "opacity": 0},
   "encoding": {
    "x": {"field": "step", "type": "quantitative", "scale": {"domain": [0, 50], "nice": false, "zero": false}, "axis": {"orient": "top", "values": [0,10,20,30,40,50], "labels": false, "title": null}},
    "y": {"field": "value", "type": "quantitative", "scale": {"domain": [0, 2.5], "nice": false, "zero": false}, "axis": {"orient": "right", "values": [0,0.5,1,1.5,2,2.5], "labels": false, "title": null}}
   }}
 ],
 "resolve": {"axis": {"x": "independent", "y": "independent"}}
}
]
}
